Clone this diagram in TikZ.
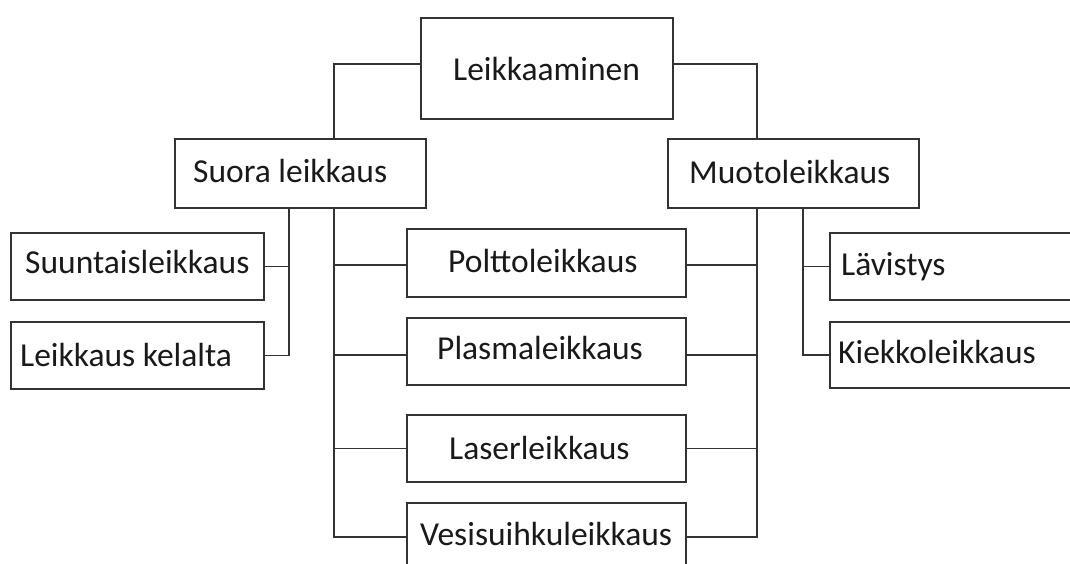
\documentclass[tikz,border=0pt]{standalone}
\usepackage{fontspec}
\setmainfont{Carlito}
\begin{document}
\begin{tikzpicture}[x=1pt,y=-1pt,
  bx/.style={draw=black!80, line width=1.7pt, fill=white, inner sep=0pt, anchor=north west},
  tx/.style={font=\fontsize{33.5}{36}\selectfont, inner sep=0pt, anchor=base west, text=black!90},
  cn/.style={draw=black!80, line width=1.7pt}]
\useasboundingbox (0,0) rectangle (1070,563);
% boxes
\node[bx, minimum width=252, minimum height=101] (L) at (420,17) {};
\node[bx, minimum width=251, minimum height=69] (S) at (174,138) {};
\node[bx, minimum width=251, minimum height=69] (M) at (667,138) {};
\node[bx, minimum width=253, minimum height=67] (SU) at (10,232) {};
\node[bx, minimum width=253, minimum height=67] (LK) at (10,321) {};
\node[bx, minimum width=279, minimum height=68] (P) at (406,228) {};
\node[bx, minimum width=279, minimum height=67] (PL) at (406,317) {};
\node[bx, minimum width=279, minimum height=67] (LA) at (406,414) {};
\node[bx, minimum width=279, minimum height=68] (V) at (406,502) {};
\node[bx, minimum width=256, minimum height=67] (LV) at (829,232) {};
\node[bx, minimum width=256, minimum height=66] (KI) at (829,321) {};
% texts
\node[tx] (Lt) at (453,80) {Leikkaaminen};
\node[tx] (St) at (193,182) {Suora leikkaus};
\node[tx] (Mt) at (689,183) {Muotoleikkaus};
\node[tx] (SUt) at (25,273) {Suuntaisleikkaus};
\node[tx] (LKt) at (20,366) {Leikkaus kelalta};
\node[tx] (Pt) at (448,272) {Polttoleikkaus};
\node[tx] (PLt) at (437,359) {Plasmaleikkaus};
\node[tx] (LAt) at (449,459) {Laserleikkaus};
\node[tx] (Vt) at (420,545) {Vesisuihkuleikkaus};
\node[tx] (LVt) at (841,275) {Lävistys};
\node[tx] (KIt) at (838,363) {Kiekkoleikkaus};
% junction coordinates
\coordinate (SL) at (334,207);
\coordinate (SR) at (289,207);
\coordinate (ML) at (757,207);
\coordinate (MR) at (803,207);
\coordinate (LJ) at (420,64);
\coordinate (RJ) at (672,64);
% top connectors
\draw[cn] (LJ) -| (S.north -| SL);
\draw[cn] (RJ) -| (M.north -| ML);
% Suora left group
\draw[cn] (SR) |- (LK.east);
\draw[cn] (SU.east) -- (SU.east -| SR);
% Suora middle group
\draw[cn] (SL) |- (V.west |- 0,537);
\draw[cn] (P.west |- 0,265) -- (SL |- 0,265);
\draw[cn] (PL.west |- 0,355) -- (SL |- 0,355);
\draw[cn] (LA.west) -- (LA.west -| SL);
% Muoto middle group
\draw[cn] (ML) |- (V.east |- 0,537);
\draw[cn] (P.east |- 0,265) -- (ML |- 0,265);
\draw[cn] (PL.east |- 0,355) -- (ML |- 0,355);
\draw[cn] (LA.east) -- (LA.east -| ML);
% Muoto right group
\draw[cn] (MR) |- (KI.west);
\draw[cn] (LV.west) -- (LV.west -| MR);
\end{tikzpicture}
\end{document}
